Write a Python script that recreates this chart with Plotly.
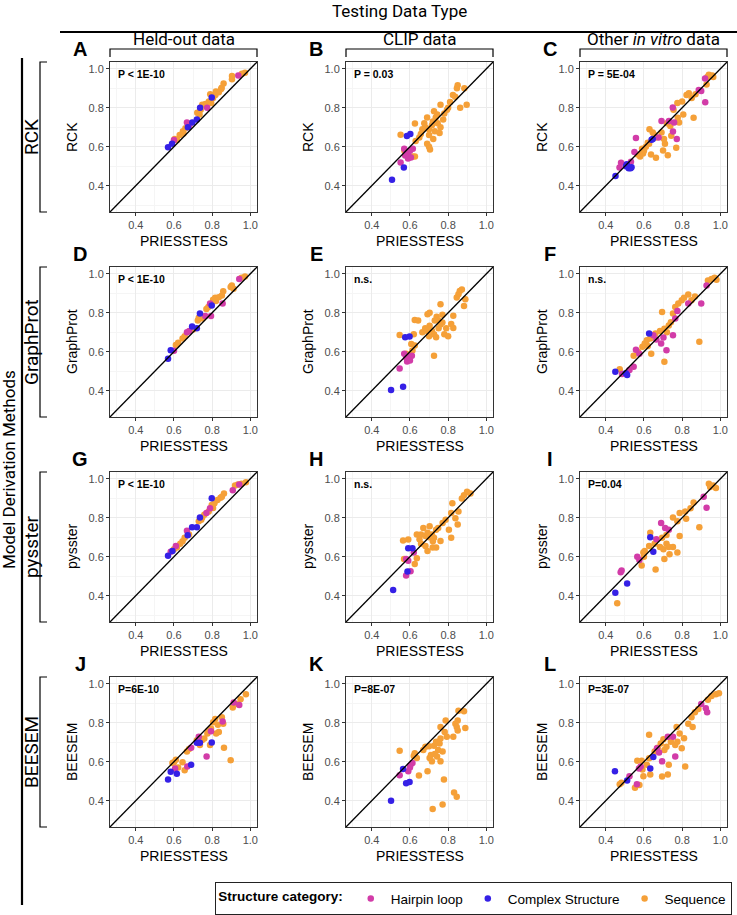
import plotly.graph_objects as go

W, H = 737, 915

# ---------------- data ----------------
column_titles = ["Held-out data", "CLIP data", "Other <i>in vitro</i> data"]
row_titles = ["RCK", "GraphProt", "pysster", "BEESEM"]
panel_letters = ["A", "B", "C", "D", "E", "F", "G", "H", "I", "J", "K", "L"]
p_labels = ["P < 1E-10", "P = 0.03", "P = 5E-04",
            "P < 1E-10", "n.s.", "n.s.",
            "P < 1E-10", "n.s.", "P=0.04",
            "P=6E-10", "P=8E-07", "P=3E-07"]
categories = ["Hairpin loop", "Complex Structure", "Sequence"]
tick_vals = [0.4, 0.6, 0.8, 1.0]
tick_text = ["0.4", "0.6", "0.8", "1.0"]

A_hairpin = [(0.60,0.635),(0.668,0.724),(0.68,0.71),(0.774,0.80),(0.937,0.966)]
A_complex = [(0.569,0.598),(0.59,0.615),(0.673,0.70),(0.696,0.724),(0.72,0.74),(0.737,0.80),(0.798,0.853)]
A_sequence = [(0.604,0.64),(0.616,0.635),(0.647,0.68),(0.65,0.668),(0.66,0.695),(0.722,0.774),(0.734,0.766),
              (0.748,0.816),(0.783,0.832),(0.795,0.824),(0.79,0.87),(0.817,0.866),(0.82,0.883),(0.85,0.903),
              (0.86,0.925),(0.847,0.896),(0.904,0.963),(0.904,0.946),(0.956,0.975),(0.972,0.98),(0.74,0.79),
              (0.805,0.85),(0.835,0.88),(0.63,0.66),(0.765,0.82)]

B_hairpin = [(0.551,0.519),(0.57,0.59),(0.58,0.57),(0.59,0.56),(0.60,0.58),(0.615,0.59),(0.605,0.545),(0.59,0.54),(0.575,0.555)]
B_complex = [(0.506,0.43),(0.568,0.494),(0.584,0.655),(0.602,0.665)]
B_sequence = [(0.551,0.662),(0.614,0.55),(0.626,0.55),(0.571,0.58),(0.63,0.63),(0.649,0.648),(0.626,0.719),
              (0.657,0.665),(0.69,0.615),(0.705,0.586),(0.722,0.64),(0.68,0.70),(0.70,0.69),(0.715,0.71),
              (0.73,0.68),(0.745,0.72),(0.76,0.70),(0.69,0.75),(0.726,0.782),(0.743,0.765),(0.76,0.816),
              (0.774,0.74),(0.794,0.79),(0.81,0.83),(0.825,0.866),(0.837,0.857),(0.846,0.9),(0.863,0.8),
              (0.885,0.9),(0.897,0.816),(0.85,0.916),(0.665,0.69),(0.70,0.66),(0.735,0.75),(0.755,0.67),
              (0.78,0.77),(0.80,0.80),(0.72,0.73),(0.675,0.72),(0.70,0.60)]

C_hairpin = [(0.48,0.518),(0.472,0.494),(0.532,0.523),(0.558,0.645),(0.55,0.573),(0.692,0.732),(0.731,0.732),
             (0.752,0.678),(0.758,0.724),(0.677,0.648),(0.772,0.64),(0.751,0.802),(0.9,0.886),(0.887,0.891),
             (0.921,0.829),(0.92,0.95)]
C_complex = [(0.451,0.45),(0.506,0.5),(0.52,0.49),(0.53,0.49),(0.535,0.495),(0.51,0.51),(0.646,0.64),(0.64,0.636)]
C_sequence = [(0.567,0.56),(0.58,0.55),(0.595,0.565),(0.60,0.58),(0.59,0.59),(0.61,0.60),(0.627,0.615),(0.629,0.69),
              (0.646,0.673),(0.663,0.648),(0.637,0.56),(0.663,0.544),(0.70,0.581),(0.725,0.556),(0.692,0.673),
              (0.705,0.64),(0.71,0.615),(0.738,0.707),(0.743,0.657),(0.769,0.595),(0.777,0.749),(0.784,0.724),
              (0.775,0.824),(0.806,0.765),(0.86,0.749),(0.80,0.832),(0.823,0.866),(0.835,0.874),(0.928,0.92),
              (0.932,0.958),(0.94,0.97),(0.958,0.966),(0.963,0.958),(0.755,0.79),(0.62,0.62),(0.655,0.66),
              (0.72,0.72),(0.85,0.85),(0.87,0.87)]

D_hairpin = [(0.6,0.605),(0.668,0.7),(0.68,0.707),(0.764,0.784),(0.794,0.784),(0.789,0.847),(0.855,0.847),(0.942,0.974)]
D_complex = [(0.569,0.564),(0.583,0.608),(0.695,0.73),(0.72,0.72),(0.736,0.796),(0.798,0.838)]
D_sequence = [(0.61,0.634),(0.622,0.646),(0.645,0.668),(0.656,0.68),(0.70,0.714),(0.725,0.76),(0.73,0.775),
              (0.739,0.787),(0.77,0.82),(0.78,0.83),(0.805,0.867),(0.816,0.877),(0.835,0.88),(0.851,0.889),
              (0.858,0.91),(0.897,0.932),(0.903,0.94),(0.954,0.98),(0.972,0.986),(0.912,0.923),(0.75,0.77),(0.82,0.86)]

E_hairpin = [(0.546,0.514),(0.57,0.59),(0.58,0.57),(0.59,0.56),(0.60,0.575),(0.61,0.58),(0.585,0.55),(0.60,0.555)]
E_complex = [(0.501,0.403),(0.564,0.42),(0.575,0.675),(0.598,0.678)]
E_sequence = [(0.546,0.686),(0.58,0.59),(0.613,0.607),(0.625,0.632),(0.62,0.69),(0.607,0.64),(0.665,0.70),
              (0.688,0.708),(0.625,0.763),(0.643,0.76),(0.703,0.734),(0.715,0.708),(0.726,0.69),(0.737,0.675),
              (0.726,0.58),(0.692,0.793),(0.703,0.80),(0.73,0.76),(0.74,0.78),(0.75,0.72),(0.76,0.74),(0.77,0.75),
              (0.78,0.69),(0.79,0.72),(0.80,0.68),(0.76,0.844),(0.816,0.742),(0.827,0.722),(0.827,0.785),
              (0.845,0.878),(0.854,0.895),(0.861,0.912),(0.872,0.92),(0.883,0.835),(0.89,0.87),(0.68,0.72),
              (0.70,0.68),(0.75,0.76),(0.77,0.79)]

F_hairpin = [(0.485,0.486),(0.524,0.506),(0.546,0.523),(0.558,0.61),(0.576,0.59),(0.649,0.685),(0.665,0.663),
             (0.69,0.642),(0.702,0.673),(0.718,0.608),(0.752,0.685),(0.764,0.77),(0.775,0.809),(0.832,0.847),
             (0.90,0.847),(0.928,0.94)]
F_complex = [(0.45,0.497),(0.505,0.489),(0.512,0.48),(0.627,0.693)]
F_sequence = [(0.473,0.51),(0.546,0.58),(0.569,0.60),(0.592,0.625),(0.604,0.642),(0.615,0.659),(0.633,0.668),
              (0.638,0.59),(0.707,0.548),(0.66,0.693),(0.684,0.706),(0.707,0.718),(0.73,0.735),(0.741,0.752),
              (0.695,0.804),(0.752,0.796),(0.764,0.83),(0.78,0.847),(0.798,0.864),(0.81,0.877),(0.832,0.894),
              (0.849,0.864),(0.867,0.884),(0.89,0.651),(0.935,0.966),(0.954,0.974),(0.97,0.98),(0.98,0.97),
              (0.72,0.70),(0.62,0.63)]

G_hairpin = [(0.583,0.625),(0.61,0.655),(0.668,0.734),(0.77,0.824),(0.789,0.849),(0.908,0.941),(0.942,0.971)]
G_complex = [(0.569,0.605),(0.592,0.63),(0.672,0.71),(0.695,0.751),(0.72,0.751),(0.736,0.802),(0.798,0.90)]
G_sequence = [(0.60,0.639),(0.615,0.647),(0.633,0.667),(0.645,0.68),(0.656,0.697),(0.679,0.714),(0.73,0.782),
              (0.743,0.79),(0.748,0.802),(0.759,0.815),(0.782,0.832),(0.798,0.866),(0.812,0.874),(0.828,0.891),
              (0.844,0.903),(0.862,0.924),(0.851,0.908),(0.92,0.966),(0.935,0.971),(0.954,0.975),(0.977,0.983),
              (0.805,0.85)]

H_hairpin = [(0.58,0.504),(0.603,0.526),(0.58,0.588),(0.591,0.58),(0.62,0.622)]
H_complex = [(0.512,0.429),(0.587,0.524),(0.591,0.644),(0.613,0.644)]
H_sequence = [(0.569,0.588),(0.564,0.684),(0.591,0.689),(0.625,0.563),(0.636,0.592),(0.636,0.714),(0.658,0.714),
              (0.681,0.706),(0.692,0.723),(0.658,0.667),(0.681,0.655),(0.692,0.63),(0.67,0.748),(0.703,0.756),
              (0.715,0.714),(0.726,0.697),(0.737,0.739),(0.748,0.748),(0.76,0.681),(0.719,0.647),(0.737,0.647),
              (0.771,0.773),(0.787,0.79),(0.804,0.739),(0.816,0.697),(0.816,0.824),(0.838,0.798),(0.85,0.765),
              (0.822,0.874),(0.854,0.832),(0.872,0.899),(0.883,0.916),(0.899,0.933),(0.917,0.924),(0.70,0.70),
              (0.72,0.68),(0.65,0.69)]

I_hairpin = [(0.478,0.521),(0.483,0.529),(0.565,0.60),(0.576,0.583),(0.665,0.69),(0.69,0.773),(0.711,0.748),
             (0.73,0.739),(0.913,0.908),(0.928,0.852)]
I_complex = [(0.45,0.415),(0.512,0.462),(0.633,0.70),(0.649,0.625)]
I_sequence = [(0.46,0.361),(0.588,0.555),(0.597,0.622),(0.604,0.63),(0.627,0.655),(0.633,0.723),(0.656,0.667),
              (0.661,0.534),(0.684,0.65),(0.702,0.639),(0.718,0.667),(0.73,0.65),(0.752,0.65),(0.707,0.588),
              (0.734,0.613),(0.695,0.697),(0.718,0.711),(0.752,0.802),(0.775,0.782),(0.787,0.824),(0.775,0.622),
              (0.787,0.706),(0.821,0.795),(0.816,0.832),(0.844,0.849),(0.86,0.879),(0.89,0.751),(0.94,0.975),
              (0.947,0.958),(0.963,0.966),(0.977,0.953),(0.60,0.60)]

J_hairpin = [(0.606,0.565),(0.67,0.576),(0.69,0.672),(0.73,0.728),(0.771,0.627),(0.794,0.756),(0.855,0.807),
             (0.913,0.904),(0.942,0.891)]
J_complex = [(0.569,0.509),(0.583,0.548),(0.615,0.538),(0.69,0.585),(0.72,0.697),(0.736,0.697),(0.798,0.699)]
J_sequence = [(0.60,0.598),(0.61,0.61),(0.592,0.593),(0.622,0.571),(0.645,0.598),(0.656,0.556),(0.668,0.652),
              (0.679,0.666),(0.736,0.686),(0.748,0.711),(0.759,0.719),(0.775,0.745),(0.782,0.761),(0.794,0.77),
              (0.789,0.686),(0.805,0.803),(0.816,0.82),(0.821,0.745),(0.835,0.753),(0.851,0.829),(0.858,0.795),
              (0.862,0.672),(0.897,0.608),(0.908,0.879),(0.931,0.896),(0.949,0.921),(0.977,0.946),(0.72,0.71),
              (0.83,0.79)]

K_hairpin = [(0.546,0.531),(0.591,0.551),(0.602,0.582),(0.613,0.593),(0.60,0.57)]
K_complex = [(0.501,0.40),(0.58,0.489),(0.598,0.496),(0.564,0.563)]
K_sequence = [(0.546,0.657),(0.625,0.644),(0.636,0.619),(0.647,0.529),(0.67,0.66),(0.681,0.677),(0.692,0.551),
              (0.703,0.619),(0.71,0.635),(0.715,0.602),(0.719,0.358),(0.726,0.682),(0.737,0.703),(0.748,0.66),
              (0.755,0.693),(0.76,0.719),(0.742,0.627),(0.76,0.602),(0.771,0.652),(0.76,0.778),(0.782,0.753),
              (0.787,0.812),(0.793,0.728),(0.778,0.509),(0.771,0.38),(0.827,0.728),(0.838,0.795),(0.845,0.778),
              (0.85,0.812),(0.831,0.442),(0.845,0.42),(0.854,0.862),(0.883,0.859),(0.89,0.773),(0.85,0.761),
              (0.70,0.68),(0.73,0.64),(0.62,0.63)]

L_hairpin = [(0.524,0.526),(0.563,0.484),(0.583,0.576),(0.574,0.565),(0.668,0.669),(0.679,0.647),(0.695,0.602),
             (0.725,0.728),(0.752,0.728),(0.764,0.627),(0.90,0.896),(0.924,0.874),(0.931,0.854)]
L_complex = [(0.448,0.551),(0.512,0.504),(0.633,0.565),(0.649,0.624)]
L_sequence = [(0.473,0.484),(0.482,0.492),(0.553,0.467),(0.576,0.48),(0.565,0.605),(0.588,0.605),(0.592,0.56),
              (0.597,0.526),(0.615,0.585),(0.627,0.618),(0.633,0.534),(0.627,0.739),(0.656,0.652),(0.672,0.672),
              (0.688,0.694),(0.702,0.716),(0.695,0.524),(0.707,0.66),(0.725,0.534),(0.73,0.585),(0.718,0.677),
              (0.741,0.703),(0.764,0.686),(0.775,0.703),(0.771,0.778),(0.787,0.745),(0.798,0.669),(0.81,0.72),
              (0.816,0.576),(0.832,0.795),(0.849,0.829),(0.855,0.778),(0.867,0.854),(0.885,0.871),(0.935,0.918),
              (0.954,0.938),(0.977,0.946),(0.993,0.951)]

panels_data = {
    "A": (A_hairpin, A_complex, A_sequence), "B": (B_hairpin, B_complex, B_sequence),
    "C": (C_hairpin, C_complex, C_sequence), "D": (D_hairpin, D_complex, D_sequence),
    "E": (E_hairpin, E_complex, E_sequence), "F": (F_hairpin, F_complex, F_sequence),
    "G": (G_hairpin, G_complex, G_sequence), "H": (H_hairpin, H_complex, H_sequence),
    "I": (I_hairpin, I_complex, I_sequence), "J": (J_hairpin, J_complex, J_sequence),
    "K": (K_hairpin, K_complex, K_sequence), "L": (L_hairpin, L_complex, L_sequence),
}

# ---------------- style / layout ----------------
COLORS = {"Hairpin loop": "#D23CA8", "Complex Structure": "#3520E6", "Sequence": "#F5A038"}
AX_RANGE = [0.265, 1.035]
COL_LEFT = [110, 346, 580]
COL_W = 147
ROW_TOP = [62, 267, 472, 677]
ROW_H = 150
FONT = "Liberation Sans, Arial, Helvetica, sans-serif"
NARROW = "Liberation Sans Narrow, Arial Narrow, Roboto, Liberation Sans, sans-serif"


def fx(px):
    return px / W


def fy(py):
    return 1 - py / H


fig = go.Figure()
layout = {}
annotations = []
shapes = []

draw_order = [2, 0, 1]  # sequence, hairpin, complex on top
for idx, letter in enumerate(panel_letters):
    r, c = divmod(idx, 3)
    n = idx + 1
    xa = "x" if n == 1 else f"x{n}"
    ya = "y" if n == 1 else f"y{n}"
    left, top = COL_LEFT[c], ROW_TOP[r]
    right, bottom = left + COL_W, top + ROW_H
    axis_common = dict(
        range=AX_RANGE, tickvals=tick_vals, ticktext=tick_text, ticks="outside", ticklen=3,
        tickcolor="#333333", tickfont=dict(family=FONT, size=11, color="#4D4D4D"),
        showgrid=True, gridcolor="#EBEBEB", gridwidth=1, zeroline=False,
        showline=True, linecolor="#333333", linewidth=1, mirror=True,
        minor=dict(dtick=0.1, tick0=0.3, showgrid=True, gridcolor="#F5F5F5", gridwidth=0.6),
        fixedrange=True,
    )
    layout["xaxis" if n == 1 else f"xaxis{n}"] = dict(
        axis_common, domain=[fx(left), fx(right)], anchor=ya)
    layout["yaxis" if n == 1 else f"yaxis{n}"] = dict(
        axis_common, domain=[fy(bottom), fy(top)], anchor=xa)

    # diagonal reference line y = x
    shapes.append(dict(type="line", xref=xa, yref=ya, x0=AX_RANGE[0], y0=AX_RANGE[0],
                       x1=AX_RANGE[1], y1=AX_RANGE[1], line=dict(color="black", width=1.3)))

    series = panels_data[letter]
    for k in draw_order:
        cat = categories[k]
        pts = series[k]
        fig.add_trace(go.Scatter(
            x=[p[0] for p in pts], y=[p[1] for p in pts], mode="markers",
            marker=dict(color=COLORS[cat], size=6.5, line=dict(width=0)),
            name=cat, legendgroup=cat, showlegend=(idx == 0), legendrank=k + 1,
            xaxis=xa, yaxis=ya, hoverinfo="x+y+name"))

    # panel letter
    annotations.append(dict(text=f"<b>{letter}</b>", x=fx(left - 30), y=fy(top - 13), xref="paper", yref="paper",
                            showarrow=False, font=dict(family=FONT, size=20, color="black"),
                            xanchor="center", yanchor="middle"))
    # p-value
    annotations.append(dict(text=f"<b>{p_labels[idx]}</b>", x=fx(left + 6), y=fy(top + 12),
                            xref="paper", yref="paper", showarrow=False,
                            font=dict(family=FONT, size=10.5, color="black"),
                            xanchor="left", yanchor="middle"))
    # axis titles
    annotations.append(dict(text="PRIESSTESS", x=fx((left + right) / 2), y=fy(bottom + 29),
                            xref="paper", yref="paper", showarrow=False,
                            font=dict(family=FONT, size=14, color="black"),
                            xanchor="center", yanchor="middle"))
    annotations.append(dict(text=row_titles[r], x=fx(left - 38), y=fy((top + bottom) / 2),
                            xref="paper", yref="paper", showarrow=False, textangle=-90,
                            font=dict(family=FONT, size=14, color="black"),
                            xanchor="center", yanchor="middle"))

# column headers + brackets
for c, title in enumerate(column_titles):
    left = COL_LEFT[c]
    right = left + COL_W
    annotations.append(dict(text=title, x=fx((left + right) / 2), y=fy(39), xref="paper", yref="paper",
                            showarrow=False, font=dict(family=NARROW, size=17, color="black"),
                            xanchor="center", yanchor="middle"))
    shapes.append(dict(type="path", xref="paper", yref="paper",
                       path=f"M {fx(left)} {fy(57)} L {fx(left)} {fy(49)} L {fx(right)} {fy(49)} L {fx(right)} {fy(57)}",
                       line=dict(color="black", width=1.2)))

# row labels + brackets
for r, title in enumerate(row_titles):
    top = ROW_TOP[r]
    bottom = top + ROW_H
    annotations.append(dict(text=title, x=fx(31), y=fy((top + bottom) / 2), xref="paper", yref="paper",
                            showarrow=False, textangle=-90, font=dict(family=NARROW, size=19, color="black"),
                            xanchor="center", yanchor="middle"))
    shapes.append(dict(type="path", xref="paper", yref="paper",
                       path=f"M {fx(47)} {fy(top)} L {fx(40)} {fy(top)} L {fx(40)} {fy(bottom)} L {fx(47)} {fy(bottom)}",
                       line=dict(color="black", width=1.2)))

# outer titles and lines
annotations.append(dict(text="Testing Data Type", x=fx(399), y=fy(11), xref="paper", yref="paper",
                        showarrow=False, font=dict(family=NARROW, size=17, color="black"),
                        xanchor="center", yanchor="middle"))
annotations.append(dict(text="Model Derivation Methods", x=fx(9), y=fy(470), xref="paper", yref="paper",
                        showarrow=False, textangle=-90, font=dict(family=NARROW, size=17, color="black"),
                        xanchor="center", yanchor="middle"))
shapes.append(dict(type="line", xref="paper", yref="paper", x0=fx(60), x1=fx(737), y0=fy(32), y1=fy(32),
                   line=dict(color="black", width=2.2)))
shapes.append(dict(type="line", xref="paper", yref="paper", x0=fx(22), x1=fx(22), y0=fy(58), y1=fy(905),
                   line=dict(color="black", width=2.2)))

fig.update_layout(
    width=W, height=H, margin=dict(l=0, r=0, t=0, b=0),
    plot_bgcolor="white", paper_bgcolor="white",
    annotations=annotations, shapes=shapes,
    legend=dict(orientation="h", x=fx(732), xanchor="right", y=fy(882), yanchor="top",
                bordercolor="#222222", borderwidth=1.2, bgcolor="white",
                font=dict(family=FONT, size=13.5, color="black"),
                title=dict(text="<b>Structure category:</b>", side="left",
                           font=dict(family=FONT, size=13.5, color="black")),
                itemsizing="trace", traceorder="normal"),
    **layout,
)

fig.write_html("out.html", config={"displayModeBar": False},
               post_script="document.body.style.margin='0px';")
